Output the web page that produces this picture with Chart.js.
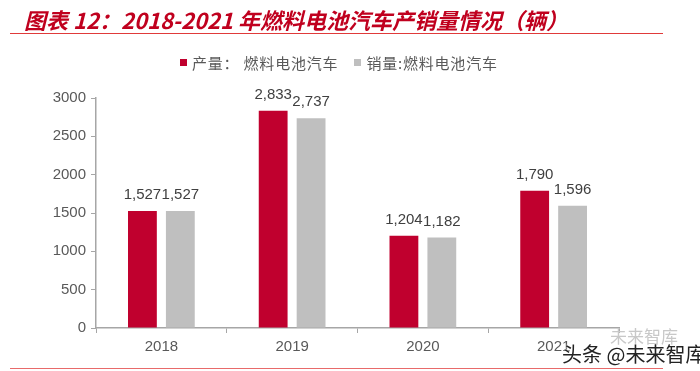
<!DOCTYPE html>
<html>
<head>
<meta charset="utf-8">
<script src="https://cdn.jsdelivr.net/npm/chart.js@4"></script>
<style>
  html, body { margin: 0; padding: 0; background: #fff; }
  #wrap { position: relative; width: 700px; height: 371px; overflow: hidden; }
  #chart { position: absolute; left: 0; top: 0; }
  .title {
    position: absolute; left: 24px; top: 3px;
    font: italic bold 22px "Noto Sans CJK SC", sans-serif;
    color: #C0001E; white-space: nowrap;
  }
  .rule { position: absolute; height: 0; }
  .legend {
    position: absolute; top: 52px; left: 180px;
    font: 15px "Noto Sans CJK SC", sans-serif; color: #595959;
    white-space: nowrap; letter-spacing: 0.8px;
  }
  .legend span.box { display: inline-block; width: 7px; height: 7px; margin-right: 5px; vertical-align: 3px; }
  .wm {
    position: absolute; left: 562px; top: 339px;
    font: 20px "Noto Sans CJK SC", sans-serif; color: #222;
    text-shadow: 0 0 2px #fff, 0 0 2px #fff; white-space: nowrap;
  }
  .wm2 {
    position: absolute; left: 610px; top: 323px;
    font: 17px "Noto Sans CJK SC", sans-serif; color: #c8c8c8; white-space: nowrap;
  }
</style>
</head>
<body>
<div id="wrap">
  <canvas id="chart" width="700" height="371"></canvas>
  <div class="title">图表 12：2018-2021 年燃料电池汽车产销量情况（辆）</div>
  <div class="rule" style="left:10px;top:33px;width:653px;border-top:1.5px solid #E03A3A;"></div>
  <div class="legend">
    <span class="box" style="background:#C0002E"></span>产量： 燃料电池汽车<span style="display:inline-block;width:16px"></span><span class="box" style="background:#BFBFBF"></span>销量:燃料电池汽车
  </div>
  <div class="rule" style="left:10px;top:368px;width:653px;border-top:1.5px solid #E86A6A;"></div>
  <div class="wm2">未来智库</div>
  <div class="wm">头条 @未来智库</div>
</div>
<script>
const years = ['2018', '2019', '2020', '2021']
const production = [1527, 2833, 1204, 1790]
const sales = [1527, 2737, 1182, 1596]
const yTicks = [0, 500, 1000, 1500, 2000, 2500, 3000]

const axisColor = '#A6A6A6'
const tickFont = { family: 'Liberation Sans, Arial, sans-serif', size: 15 }

const valueLabels = {
  id: 'valueLabels',
  afterDatasetsDraw(chart) {
    const ctx = chart.ctx
    ctx.save()
    ctx.font = '15px "Liberation Sans", Arial, sans-serif'
    ctx.fillStyle = '#404040'
    ctx.textAlign = 'center'
    ctx.textBaseline = 'middle'
    chart.data.datasets.forEach((ds, i) => {
      chart.getDatasetMeta(i).data.forEach((bar, j) => {
        ctx.fillText(ds.data[j].toLocaleString('en-US'), bar.x, bar.y - 16)
      })
    })
    ctx.restore()
  }
}

new Chart(document.getElementById('chart').getContext('2d'), {
  type: 'bar',
  data: {
    labels: years,
    datasets: [
      { label: '产量：燃料电池汽车', data: production, backgroundColor: '#C0002E' },
      { label: '销量:燃料电池汽车', data: sales, backgroundColor: '#BFBFBF' }
    ]
  },
  options: {
    responsive: false,
    animation: false,
    categoryPercentage: 0.58,
    barPercentage: 0.76,
    layout: { padding: { left: 46, right: 81, top: 98, bottom: 13 } },
    plugins: {
      legend: { display: false },
      tooltip: { enabled: false }
    },
    scales: {
      x: {
        afterFit: (scale) => { scale.height = 30 },
        grid: { offset: true, drawOnChartArea: false, tickLength: 5, color: axisColor },
        border: { color: axisColor, width: 1.5 },
        ticks: { color: '#595959', font: tickFont, padding: 5 }
      },
      y: {
        min: 0,
        max: 3000,
        afterFit: (scale) => { scale.width = 50 },
        afterBuildTicks: (scale) => { scale.ticks = yTicks.map(v => ({ value: v })) },
        grid: { drawOnChartArea: false, tickLength: 5, color: axisColor },
        border: { color: axisColor, width: 1.5 },
        ticks: { color: '#595959', font: tickFont, padding: 5, callback: (v) => String(v) }
      }
    }
  },
  plugins: [valueLabels]
})
</script>
</body>
</html>
